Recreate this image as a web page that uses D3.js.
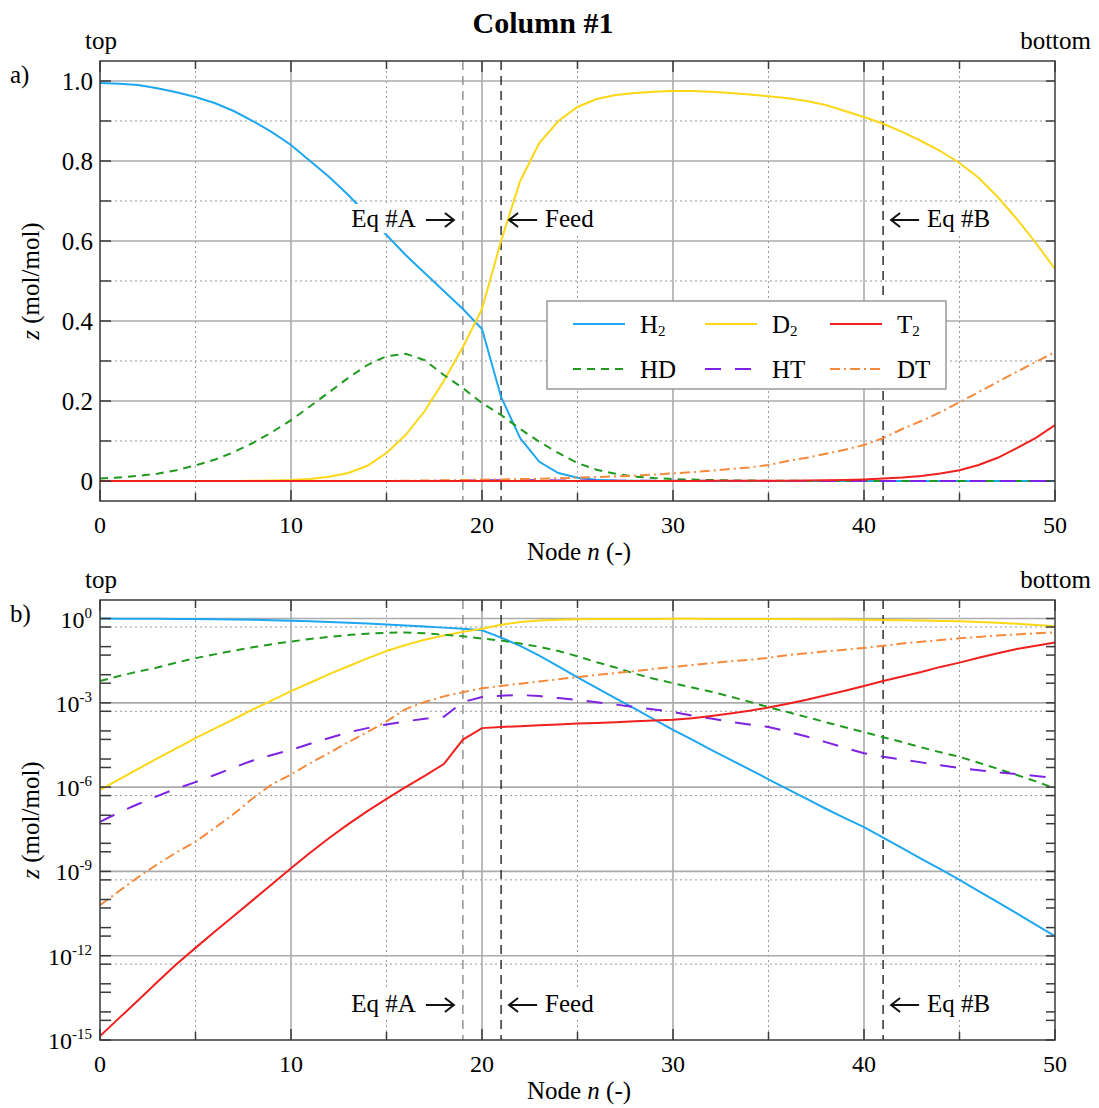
<!DOCTYPE html>
<html>
<head>
<meta charset="utf-8">
<script src="https://cdn.jsdelivr.net/npm/d3@7"></script>
<style>
body { margin: 0; background: #fff; }
svg { font-family: "Liberation Serif", "Times New Roman", serif; }
</style>
</head>
<body>
<svg id="chart" width="1099" height="1108"></svg>
<script>
// node index along the column (top = 0, bottom = 50)
var nodes = d3.range(0, 51);

// mole fractions, one value per node
var h2 = [0.995, 0.993, 0.99, 0.982, 0.972, 0.96, 0.945, 0.925, 0.9, 0.872,
          0.84, 0.8, 0.76, 0.715, 0.665, 0.615, 0.565, 0.52, 0.475, 0.43,
          0.38, 0.21, 0.107, 0.048, 0.02, 8.0e-3, 3.4e-3, 1.45e-3, 6.2e-4, 2.6e-4,
          1.1e-4, 4.9e-5, 2.1e-5, 9.5e-6, 4.3e-6, 1.9e-6, 8.5e-7, 3.8e-7, 1.7e-7, 7.9e-8,
          3.8e-8, 1.6e-8, 6.8e-9, 2.8e-9, 1.2e-9, 5.0e-10, 2.0e-10, 8.0e-11, 3.2e-11, 1.26e-11,
          5.0e-12];
var d2 = [8.0e-7, 1.9e-6, 4.5e-6, 1.05e-5, 2.4e-5, 5.5e-5, 1.2e-4, 2.6e-4, 5.8e-4, 1.23e-3,
          2.6e-3, 5.2e-3, 0.0105, 0.02, 0.038, 0.07, 0.115, 0.175, 0.25, 0.335,
          0.43, 0.6, 0.75, 0.845, 0.9, 0.935, 0.955, 0.965, 0.97, 0.973,
          0.975, 0.975, 0.973, 0.97, 0.966, 0.962, 0.957, 0.95, 0.94, 0.925,
          0.91, 0.893, 0.873, 0.85, 0.825, 0.795, 0.758, 0.71, 0.655, 0.595,
          0.53];
var t2 = [1.38e-15, 6.0e-15, 2.6e-14, 1.15e-13, 5.0e-13, 1.9e-12, 7.1e-12, 2.6e-11, 9.5e-11, 3.5e-10,
          1.3e-9, 4.6e-9, 1.55e-8, 4.8e-8, 1.4e-7, 3.8e-7, 1.0e-6, 2.5e-6, 6.6e-6, 4.9e-5,
          1.26e-4, 1.38e-4, 1.48e-4, 1.58e-4, 1.7e-4, 1.82e-4, 1.9e-4, 2.04e-4, 2.2e-4, 2.35e-4,
          2.5e-4, 2.8e-4, 3.4e-4, 4.2e-4, 5.2e-4, 6.8e-4, 9.3e-4, 1.29e-3, 1.86e-3, 2.7e-3,
          4.0e-3, 6.0e-3, 8.7e-3, 0.0126, 0.019, 0.027, 0.04, 0.058, 0.082, 0.108,
          0.14];
var hd = [0.006, 0.009, 0.013, 0.018, 0.027, 0.039, 0.053, 0.072, 0.095, 0.122,
          0.152, 0.187, 0.222, 0.258, 0.29, 0.312, 0.318, 0.302, 0.265, 0.232,
          0.195, 0.165, 0.13, 0.098, 0.07, 0.045, 0.028, 0.018, 0.011, 0.0072,
          0.005, 3.5e-3, 2.5e-3, 1.66e-3, 1.1e-3, 7.0e-4, 4.7e-4, 3.1e-4, 2.04e-4, 1.35e-4,
          9.1e-5, 6.0e-5, 4.0e-5, 2.6e-5, 1.74e-5, 1.2e-5, 7.4e-6, 4.5e-6, 2.7e-6, 1.6e-6,
          9.0e-7];
var ht = [5.8e-8, 1.26e-7, 2.5e-7, 4.8e-7, 8.9e-7, 1.5e-6, 2.7e-6, 5.0e-6, 8.9e-6, 1.4e-5,
          2.1e-5, 3.5e-5, 5.6e-5, 8.9e-5, 1.26e-4, 1.7e-4, 2.2e-4, 2.7e-4, 3.2e-4, 1.07e-3,
          1.6e-3, 1.8e-3, 1.9e-3, 1.74e-3, 1.48e-3, 1.26e-3, 1.05e-3, 8.7e-4, 7.1e-4, 5.8e-4,
          4.7e-4, 3.5e-4, 2.75e-4, 2.1e-4, 1.7e-4, 1.38e-4, 9.5e-5, 6.3e-5, 4.0e-5, 2.5e-5,
          1.6e-5, 1.2e-5, 9.5e-6, 7.6e-6, 6.0e-6, 4.8e-6, 4.0e-6, 3.4e-6, 2.9e-6, 2.5e-6,
          2.1e-6];
var dt = [6.3e-11, 2.0e-10, 6.3e-10, 1.8e-9, 4.7e-9, 1.15e-8, 3.5e-8, 1.1e-7, 4.0e-7, 1.26e-6,
          2.8e-6, 7.1e-6, 1.66e-5, 4.0e-5, 9.1e-5, 2.2e-4, 6.0e-4, 1.07e-3, 1.7e-3, 2.4e-3,
          3.3e-3, 4.0e-3, 4.8e-3, 5.8e-3, 6.9e-3, 8.3e-3, 9.8e-3, 0.0115, 0.0135, 0.016,
          0.019, 0.022, 0.026, 0.03, 0.034, 0.04, 0.05, 0.058, 0.068, 0.078,
          0.09, 0.107, 0.13, 0.15, 0.172, 0.197, 0.222, 0.248, 0.273, 0.298,
          0.322];

var seriesNames = ["H2", "D2", "T2", "HD", "HT", "DT"];
var seriesValues = [h2, d2, t2, hd, ht, dt];

// tick labels
var xTickLabels = [0, 10, 20, 30, 40, 50];
var linTickLabels = ["0", "0.2", "0.4", "0.6", "0.8", "1.0"];
var logTickExps = [0, -3, -6, -9, -12, -15];

// marked stages
var markerNodes = [19, 21, 41];
var markerLabels = ["Eq #A", "Feed", "Eq #B"];

var styles = {
    H2: {color: '#1ea7f0', dash: null},
    D2: {color: '#fbd716', dash: null},
    T2: {color: '#f0201e', dash: null},
    HD: {color: '#1f9a1f', dash: '8,6'},
    HT: {color: '#7d22e2', dash: '16,14'},
    DT: {color: '#f68a3c', dash: '10,4,2,4'}
};
var drawOrder = ["H2", "D2", "HD", "HT", "DT", "T2"];

var svg = d3.select('#chart');
var left = 100, right = 1055;
var fs = 25;
var x = d3.scaleLinear().domain([0, 50]).range([left, right]);

svg.append('text')
    .attr('x', 543).attr('y', 33)
    .attr('text-anchor', 'middle')
    .style('font-size', '30px').style('font-weight', 'bold')
    .text('Column #1');

function arrow(g, x1, x2, yy) {
    var dir = x2 > x1 ? 1 : -1;
    g.append('path')
        .attr('d', `M${x1},${yy}L${x2},${yy}M${x2 - dir * 9},${yy - 7}L${x2},${yy}L${x2 - dir * 9},${yy + 7}`)
        .attr('fill', 'none').attr('stroke', '#111').attr('stroke-width', 2);
}

function drawPanel(top, bottom, y, isLog, tag, labelY) {
    var g = svg.append('g');
    var gridColor = '#ababab';

    // grid, major solid & minor dotted
    var yMajor, yMinor, yTicks;
    if (isLog) {
        yMajor = logTickExps.filter(e => e > -15).map(e => Math.pow(10, e));
        yMinor = yMajor.map(v => v * 0.5);
        yTicks = [];
        d3.range(0, 16).forEach(k => {
            yTicks.push(Math.pow(10, -k));
            if (k < 15) yTicks.push(0.5 * Math.pow(10, -k));
        });
    } else {
        yMajor = linTickLabels.map(d => +d);
        yMinor = [0.1, 0.3, 0.5, 0.7, 0.9];
        yTicks = d3.range(0, 11).map(i => i / 10);
    }

    g.selectAll('.gmx').data([5, 15, 25, 35, 45]).join('line')
        .attr('x1', d => x(d)).attr('x2', d => x(d))
        .attr('y1', top).attr('y2', bottom)
        .attr('stroke', '#9a9a9a').attr('stroke-width', 1).attr('stroke-dasharray', '2,3');
    g.selectAll('.gmy').data(yMinor).join('line')
        .attr('x1', left).attr('x2', right)
        .attr('y1', d => y(d)).attr('y2', d => y(d))
        .attr('stroke', '#9a9a9a').attr('stroke-width', 1).attr('stroke-dasharray', '2,3');
    g.selectAll('.gMx').data([10, 20, 30, 40]).join('line')
        .attr('x1', d => x(d)).attr('x2', d => x(d))
        .attr('y1', top).attr('y2', bottom)
        .attr('stroke', gridColor).attr('stroke-width', 1.6);
    g.selectAll('.gMy').data(yMajor).join('line')
        .attr('x1', left).attr('x2', right)
        .attr('y1', d => y(d)).attr('y2', d => y(d))
        .attr('stroke', gridColor).attr('stroke-width', 1.6);

    // stage markers
    g.selectAll('.mk').data(markerNodes).join('line')
        .attr('x1', d => x(d)).attr('x2', d => x(d))
        .attr('y1', top).attr('y2', bottom)
        .attr('stroke', (d, i) => i === 0 ? '#8c8c8c' : '#222')
        .attr('stroke-width', 1.4)
        .attr('stroke-dasharray', '9,6');

    // curves
    var clipId = 'clip' + tag;
    svg.append('clipPath').attr('id', clipId).append('rect')
        .attr('x', left).attr('y', top).attr('width', right - left).attr('height', bottom - top);
    var line = d3.line().x((d, i) => x(nodes[i])).y(d => y(d));
    g.append('g').attr('clip-path', `url(#${clipId})`)
        .selectAll('path').data(drawOrder).join('path')
        .attr('d', k => line(seriesValues[seriesNames.indexOf(k)]))
        .attr('fill', 'none')
        .attr('stroke', k => styles[k].color)
        .attr('stroke-width', 2)
        .attr('stroke-dasharray', k => styles[k].dash);

    // marker labels: text on a white box, arrow drawn over the curves
    markerNodes.forEach((n, i) => {
        var isLeft = i === 0;
        var lab = g.append('g');
        var bg = lab.append('rect').attr('fill', '#fff');
        var tip, tail, t;
        if (isLeft) {
            tip = x(n) - 9; tail = tip - 28;
            t = lab.append('text').attr('x', tail - 10).attr('y', labelY)
                .attr('text-anchor', 'end');
        } else {
            tip = x(n) + 8; tail = tip + 28;
            t = lab.append('text').attr('x', tail + 8).attr('y', labelY)
                .attr('text-anchor', 'start');
        }
        t.style('font-size', fs + 'px').text(markerLabels[i]);
        arrow(lab, tail, tip, labelY - 7);
        var bb = t.node().getBBox();
        bg.attr('x', bb.x - 4).attr('y', bb.y - 1).attr('width', bb.width + 8).attr('height', bb.height + 2);
    });

    // frame and inward ticks
    var frameColor = '#3a3a3a';
    g.append('rect')
        .attr('x', left).attr('y', top).attr('width', right - left).attr('height', bottom - top)
        .attr('fill', 'none').attr('stroke', frameColor).attr('stroke-width', 1.5);
    var xt = d3.range(0, 51, 5);
    g.selectAll('.xtb').data(xt).join('line')
        .attr('x1', d => x(d)).attr('x2', d => x(d))
        .attr('y1', bottom).attr('y2', d => bottom - (d % 10 === 0 ? 11 : 8))
        .attr('stroke', frameColor).attr('stroke-width', 1.5);
    g.selectAll('.xtt').data(xt).join('line')
        .attr('x1', d => x(d)).attr('x2', d => x(d))
        .attr('y1', top).attr('y2', d => top + (d % 10 === 0 ? 11 : 8))
        .attr('stroke', frameColor).attr('stroke-width', 1.5);
    g.selectAll('.ytl').data(yTicks).join('line')
        .attr('x1', left).attr('x2', left + 11)
        .attr('y1', d => y(d)).attr('y2', d => y(d))
        .attr('stroke', frameColor).attr('stroke-width', 1.5);
    g.selectAll('.ytr').data(yTicks).join('line')
        .attr('x1', right).attr('x2', right - 9)
        .attr('y1', d => y(d)).attr('y2', d => y(d))
        .attr('stroke', frameColor).attr('stroke-width', 1.5);

    // tick labels
    g.selectAll('.xl').data(xTickLabels).join('text')
        .attr('x', d => x(d)).attr('y', bottom + 32)
        .attr('text-anchor', 'middle')
        .style('font-size', '24px')
        .text(d => d);
    if (isLog) {
        var yl = g.selectAll('.yl').data(logTickExps).join('text')
            .attr('x', 92).attr('y', d => y(Math.pow(10, d)) + 9)
            .attr('text-anchor', 'end')
            .style('font-size', '24px');
        yl.append('tspan').text('10');
        yl.append('tspan').attr('dy', -10).style('font-size', '15px').text(d => d === 0 ? '0' : '-' + (-d));
    } else {
        g.selectAll('.yl').data(linTickLabels).join('text')
            .attr('x', 93).attr('y', d => y(+d) + 9)
            .attr('text-anchor', 'end')
            .style('font-size', fs + 'px')
            .text(d => d);
    }

    // axis titles
    var xt2 = g.append('text')
        .attr('x', 579).attr('y', bottom + 59)
        .attr('text-anchor', 'middle')
        .style('font-size', fs + 'px');
    xt2.append('tspan').text('Node ');
    xt2.append('tspan').style('font-style', 'italic').text('n');
    xt2.append('tspan').text(' (-)');

    var yt = g.append('text')
        .attr('transform', `translate(39,${(top + bottom) / 2}) rotate(-90)`)
        .attr('text-anchor', 'middle')
        .style('font-size', fs + 'px');
    yt.append('tspan').style('font-style', 'italic').text('z');
    yt.append('tspan').text(' (mol/mol)');

    // corner labels
    g.append('text').attr('x', 85).attr('y', top - 12).style('font-size', fs + 'px').text('top');
    g.append('text').attr('x', 1091).attr('y', top - 12).attr('text-anchor', 'end')
        .style('font-size', fs + 'px').text('bottom');
    g.append('text').attr('x', 10).attr('y', top + 22).style('font-size', fs + 'px').text(tag + ')');
}

var yLin = d3.scaleLinear().domain([-0.05, 1.05]).range([501, 61]);
var yLog = d3.scaleLog().domain([1e-15, 4.57]).range([1040, 600]);

drawPanel(61, 501, yLin, false, 'a', 227);
drawPanel(600, 1040, yLog, true, 'b', 1012);

// legend (top panel)
var lg = svg.append('g');
lg.append('rect').attr('x', 547).attr('y', 301).attr('width', 399).attr('height', 88)
    .attr('fill', '#fff').attr('stroke', '#8a8a8a').attr('stroke-width', 1.3);
var colX = [573, 705, 830];
var rowY = [324, 369];
seriesNames.forEach((k, i) => {
    var cx = colX[i % 3], cy = rowY[Math.floor(i / 3)];
    lg.append('line')
        .attr('x1', cx).attr('x2', cx + 52).attr('y1', cy).attr('y2', cy)
        .attr('stroke', styles[k].color).attr('stroke-width', 2)
        .attr('stroke-dasharray', styles[k].dash);
    var t = lg.append('text').attr('x', cx + 67).attr('y', cy + 9).style('font-size', fs + 'px');
    if (k.endsWith('2')) {
        t.append('tspan').text(k[0]);
        t.append('tspan').attr('dy', 3).style('font-size', '15px').text('2');
    } else {
        t.text(k);
    }
});
</script>
</body>
</html>
